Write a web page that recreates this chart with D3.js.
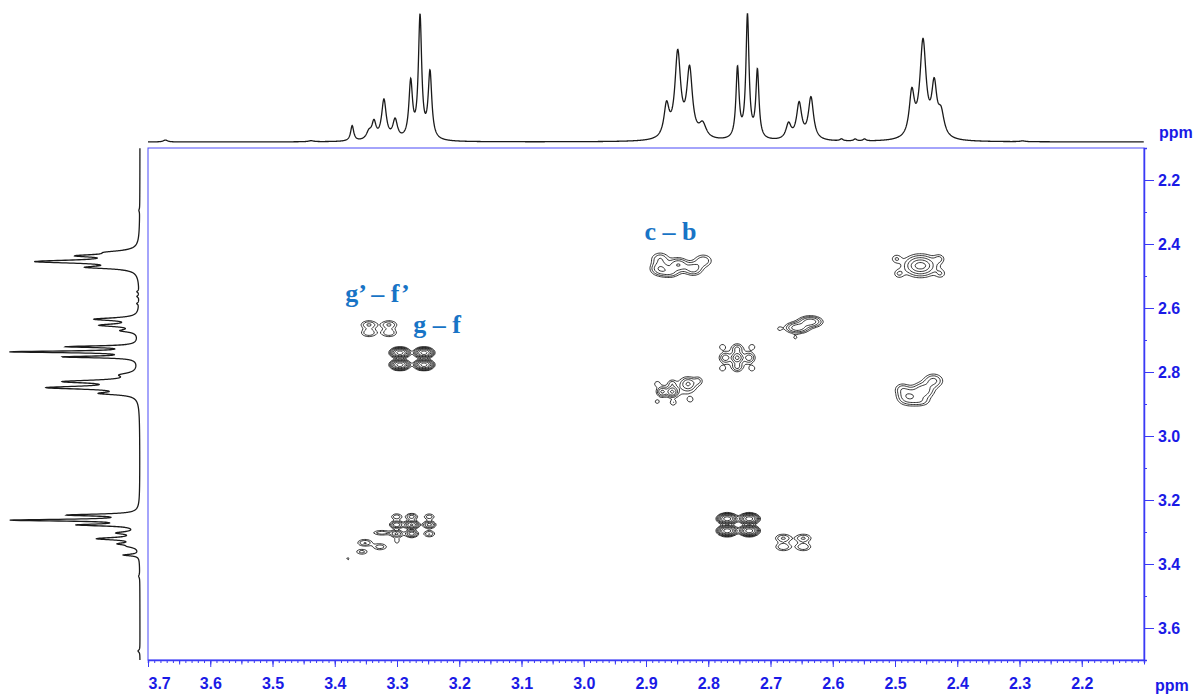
<!DOCTYPE html>
<html>
<head>
<meta charset="utf-8">
<script src="https://cdn.jsdelivr.net/npm/d3@7"></script>
<style>
  body { margin: 0; background: #fff; }
  svg { display: block; }
  .axis text { font-family: "Liberation Sans", Arial, sans-serif; font-weight: bold; font-size: 16px; fill: #1a1ae6; }
  .axis path, .axis line { stroke: #3a3af5; }
  .unit { font-family: "Liberation Sans", Arial, sans-serif; font-weight: bold; font-size: 16px; fill: #1a1ae6; }
  .lbl { font-family: "Liberation Serif", "Times New Roman", serif; font-weight: bold; font-size: 26px; fill: #1874c6; }
</style>
</head>
<body>
<div id="chart"></div>
<script>
// 1D projection (same spectrum on top and on the left)
// shift in ppm, relative height (tallest = 1), half width at half height in ppm
const peakShift  = [3.672, 3.438, 3.372, 3.345, 3.337, 3.321, 3.303, 3.278, 3.263, 3.247,
                    2.867, 2.849, 2.830, 2.809, 2.753, 2.737, 2.721, 2.671, 2.654, 2.635,
                    2.586, 2.564, 2.549, 2.473, 2.455, 2.437, 2.426, 2.295];
const peakHeight = [0.015, 0.008, 0.12, 0.06, 0.13, 0.31, 0.15, 0.44, 0.95, 0.52,
                    0.25, 0.66, 0.53, 0.11, 0.55, 0.96, 0.53, 0.12, 0.28, 0.33,
                    0.015, 0.015, 0.015, 0.34, 0.75, 0.38, 0.18, 0.006];
const peakWidth  = [0.004, 0.005, 0.003, 0.005, 0.004, 0.0045, 0.0045, 0.0035, 0.0032, 0.0035,
                    0.005, 0.0055, 0.0055, 0.007, 0.003, 0.003, 0.003, 0.005, 0.005, 0.005,
                    0.003, 0.003, 0.003, 0.005, 0.006, 0.005, 0.006, 0.005];

// 2D cross / diagonal peaks: [F2 ppm, F1 ppm, intensity, sigma F2, sigma F1]
const peakGF      = [[3.2965, 2.7375, 2.6, 0.0072, 0.0076], [3.2579, 2.7375, 2.6, 0.0072, 0.0076],
                     [3.2965, 2.7750, 2.6, 0.0072, 0.0076], [3.2579, 2.7750, 2.6, 0.0072, 0.0076]];
const peakFG      = [[2.7707, 3.2563, 2.8, 0.0072, 0.0076], [2.7354, 3.2563, 2.8, 0.0072, 0.0076],
                     [2.7707, 3.2938, 2.8, 0.0072, 0.0076], [2.7354, 3.2938, 2.8, 0.0072, 0.0076]];
const peakGF2     = [[3.3463, 2.6500, 0.35, 0.0085, 0.0085], [3.3141, 2.6500, 0.35, 0.0085, 0.0085],
                     [3.3463, 2.6750, 0.32, 0.0085, 0.0085], [3.3141, 2.6750, 0.32, 0.0085, 0.0085]];
const peakFG2     = [[2.6807, 3.3170, 0.35, 0.0085, 0.0085], [2.6486, 3.3170, 0.35, 0.0085, 0.0085],
                     [2.6807, 3.3440, 0.32, 0.0085, 0.0085], [2.6486, 3.3440, 0.32, 0.0085, 0.0085]];
const peakCB      = [[2.8785, 2.4750, 0.50, 0.0095, 0.013], [2.8495, 2.4625, 0.50, 0.0095, 0.013],
                     [2.8254, 2.4750, 0.42, 0.0095, 0.013], [2.8093, 2.4500, 0.30, 0.0095, 0.013],
                     [2.8785, 2.4438, 0.30, 0.0095, 0.013], [2.8624, 2.4875, 0.30, 0.0095, 0.010]];
const peakBC      = [[2.4797, 2.8750, 0.50, 0.011, 0.016], [2.4560, 2.8560, 0.45, 0.011, 0.016],
                     [2.4395, 2.8250, 0.36, 0.010, 0.014], [2.4900, 2.8500, 0.22, 0.008, 0.012],
                     [2.4600, 2.8900, 0.22, 0.010, 0.010]];
const peakDiagB   = [[2.4604, 2.4656, 0.70, 0.016, 0.020], [2.4990, 2.4438, 0.20, 0.006, 0.010],
                     [2.4300, 2.4438, 0.20, 0.006, 0.010], [2.4950, 2.4906, 0.20, 0.006, 0.010],
                     [2.4280, 2.4906, 0.18, 0.006, 0.010], [2.4604, 2.4656, 0.40, 0.007, 0.008]];
const peakDiag265 = [[2.6582, 2.6594, 0.70, 0.011, 0.010], [2.6373, 2.6406, 0.70, 0.011, 0.010],
                     [2.6871, 2.6625, 0.14, 0.004, 0.007], [2.6614, 2.6906, 0.14, 0.004, 0.007]];
const peakDiag275 = [[2.7547, 2.7531, 0.80, 0.005, 0.009], [2.7740, 2.7531, 0.35, 0.005, 0.009],
                     [2.7354, 2.7531, 0.35, 0.005, 0.009], [2.7547, 2.7250, 0.30, 0.005, 0.009],
                     [2.7547, 2.7813, 0.30, 0.005, 0.009], [2.7787, 2.7190, 0.15, 0.004, 0.007],
                     [2.7307, 2.7190, 0.15, 0.004, 0.007], [2.7787, 2.7870, 0.15, 0.004, 0.007],
                     [2.7307, 2.7870, 0.15, 0.004, 0.007], [2.7547, 2.7531, 0.15, 0.022, 0.030]];
const peakDiag285 = [[2.8592, 2.8594, 0.80, 0.005, 0.009], [2.8752, 2.8594, 0.50, 0.005, 0.009],
                     [2.8334, 2.8344, 0.45, 0.007, 0.012], [2.8174, 2.8250, 0.20, 0.005, 0.009],
                     [2.8833, 2.8344, 0.15, 0.004, 0.007], [2.8576, 2.8938, 0.18, 0.004, 0.007],
                     [2.8302, 2.8844, 0.15, 0.004, 0.007], [2.8833, 2.8906, 0.15, 0.004, 0.007],
                     [2.8592, 2.8344, 0.20, 0.004, 0.007], [2.8463, 2.8500, 0.14, 0.025, 0.025]];
const peakDiag328 = [[3.3018, 3.2500, 0.30, 0.006, 0.0065], [3.2777, 3.2500, 0.42, 0.006, 0.0065],
                     [3.2494, 3.2500, 0.28, 0.006, 0.0065], [3.3018, 3.2750, 0.75, 0.006, 0.0065],
                     [3.2777, 3.2750, 1.40, 0.006, 0.0065], [3.2494, 3.2750, 0.62, 0.006, 0.0065],
                     [3.3018, 3.3031, 0.55, 0.006, 0.0065], [3.2777, 3.3031, 0.68, 0.006, 0.0065],
                     [3.2494, 3.3031, 0.34, 0.006, 0.0065], [3.3254, 3.3000, 0.30, 0.010, 0.005],
                     [3.3013, 3.3250, 0.18, 0.004, 0.008], [3.3527, 3.3313, 0.34, 0.008, 0.007],
                     [3.3286, 3.3438, 0.28, 0.008, 0.007], [3.3576, 3.3594, 0.25, 0.007, 0.006],
                     [3.3800, 3.3813, 0.14, 0.004, 0.006]];

const contourLevels = [0.12, 0.2, 0.32, 0.5, 0.8, 1.25, 2, 3.2];
const xTickValues = [3.7, 3.6, 3.5, 3.4, 3.3, 3.2, 3.1, 3.0, 2.9, 2.8, 2.7, 2.6, 2.5, 2.4, 2.3, 2.2];
const yTickValues = [2.2, 2.4, 2.6, 2.8, 3.0, 3.2, 3.4, 3.6];
const labelText = ["c \u2013 b", "g\u2019 \u2013 f\u2019", "g \u2013 f"];

const width = 1199, height = 695;
const plot = {left: 148, right: 1144, top: 148, bottom: 660};

const svg = d3.select("#chart").append("svg")
    .attr("width", width)
    .attr("height", height);

// scales
const x = d3.scaleLinear().domain([3.7, 2.1]).range([plot.left, plot.right]);
const y = d3.scaleLinear().domain([2.1, 3.7]).range([plot.top, plot.bottom]);
const topY = d3.scaleLinear().domain([0, 1]).range([142, 14]);
const leftX = d3.scaleLinear().domain([0, 1]).range([140, 10]);

// 1D spectrum from the peak list
function spectrum(ppm) {
    let s = 0;
    for (let i = 0; i < peakShift.length; i++) {
        const d = (ppm - peakShift[i]) / peakWidth[i];
        s += peakHeight[i] / (1 + d * d);
    }
    return s;
}
const ppmGrid = d3.range(3.7, 2.1, -0.0004);
const trace = ppmGrid.map(p => [p, spectrum(p)]);

svg.append("path")
    .datum(trace)
    .attr("fill", "none")
    .attr("stroke", "#1a1a1a")
    .attr("stroke-width", 1.3)
    .attr("d", d3.line().x(d => x(d[0])).y(d => topY(d[1])));

svg.append("path")
    .datum(trace)
    .attr("fill", "none")
    .attr("stroke", "#1a1a1a")
    .attr("stroke-width", 1.3)
    .attr("d", d3.line().x(d => leftX(d[1])).y(d => y(d[0])));

// 2D contour map
const step = 1.5;
const gw = Math.ceil((plot.right - plot.left) / step);
const gh = Math.ceil((plot.bottom - plot.top) / step);
const grid = new Float64Array(gw * gh);
const allPeaks = [].concat(peakGF, peakFG, peakGF2, peakFG2, peakCB, peakBC,
                           peakDiagB, peakDiag265, peakDiag275, peakDiag285, peakDiag328);
allPeaks.forEach(([f2, f1, amp, s2, s1]) => {
    const cx = (x(f2) - plot.left) / step, cy = (y(f1) - plot.top) / step;
    const sx = Math.abs(x(f2 + s2) - x(f2)) / step, sy = Math.abs(y(f1 + s1) - y(f1)) / step;
    const i0 = Math.max(0, Math.floor(cx - 5 * sx)), i1 = Math.min(gw - 1, Math.ceil(cx + 5 * sx));
    const j0 = Math.max(0, Math.floor(cy - 5 * sy)), j1 = Math.min(gh - 1, Math.ceil(cy + 5 * sy));
    for (let j = j0; j <= j1; j++) {
        const dy = (j - cy) / sy;
        for (let i = i0; i <= i1; i++) {
            const dx = (i - cx) / sx;
            grid[j * gw + i] += amp * Math.exp(-0.5 * (dx * dx + dy * dy));
        }
    }
});

const contours = d3.contours().size([gw, gh]).thresholds(contourLevels)(grid);
const proj = d3.geoIdentity().scale(step).translate([plot.left, plot.top]);

svg.append("defs").append("clipPath").attr("id", "clip")
  .append("rect")
    .attr("x", plot.left).attr("y", plot.top)
    .attr("width", plot.right - plot.left).attr("height", plot.bottom - plot.top);

svg.append("g")
    .attr("clip-path", "url(#clip)")
  .selectAll("path")
  .data(contours)
  .join("path")
    .attr("d", d3.geoPath(proj))
    .attr("fill", "none")
    .attr("stroke", "#111")
    .attr("stroke-width", 0.85);

// frame
svg.append("rect")
    .attr("x", plot.left).attr("y", plot.top)
    .attr("width", plot.right - plot.left).attr("height", plot.bottom - plot.top)
    .attr("fill", "none")
    .attr("stroke", "#4a4af7")
    .attr("stroke-width", 1);

// bottom axis: minor, medium and major ticks
const xMinor = d3.range(3.7, 2.095, -0.01).map(v => +v.toFixed(2));
const xMid = xMinor.filter(v => Math.abs(v * 20 - Math.round(v * 20)) < 1e-6);

svg.append("g").attr("class", "axis")
    .attr("transform", `translate(0,${plot.bottom})`)
    .call(d3.axisBottom(x).tickValues(xMinor).tickSize(3).tickFormat(""))
    .call(g => g.select(".domain").attr("stroke-width", 1.5));
svg.append("g").attr("class", "axis")
    .attr("transform", `translate(0,${plot.bottom})`)
    .call(d3.axisBottom(x).tickValues(xMid).tickSize(4.5).tickFormat(""))
    .call(g => g.select(".domain").remove());
const xAxis = svg.append("g").attr("class", "axis")
    .attr("transform", `translate(0,${plot.bottom})`)
    .call(d3.axisBottom(x).tickValues(xTickValues).tickSize(7).tickPadding(11).tickFormat(d3.format(".1f")))
    .call(g => g.select(".domain").remove());
xAxis.selectAll(".tick text").filter(d => d === 3.7).attr("text-anchor", "start").attr("x", 0);

svg.append("text").attr("class", "unit")
    .attr("x", 1155).attr("y", 691)
    .text("ppm");

// right axis
const yMinor = d3.range(2.1, 3.75, 0.1).map(v => +v.toFixed(1)).filter(v => v > 2.1 && v < 3.7);
svg.append("g").attr("class", "axis")
    .attr("transform", `translate(${plot.right},0)`)
    .call(d3.axisRight(y).tickValues(yMinor).tickSize(3).tickFormat(""))
    .call(g => g.select(".domain").attr("stroke-width", 1.5));
svg.append("g").attr("class", "axis")
    .attr("transform", `translate(${plot.right},0)`)
    .call(d3.axisRight(y).tickValues(yTickValues).tickSize(10).tickPadding(4).tickFormat(d3.format(".1f")))
    .call(g => g.select(".domain").remove());

svg.append("text").attr("class", "unit")
    .attr("x", 1159).attr("y", 138)
    .text("ppm");

// peak labels
const labelPos = [[2.9026, 2.3875], [3.3833, 2.5800], [3.2740, 2.6780]];
svg.append("g").selectAll("text")
  .data(labelText)
  .join("text")
    .attr("class", "lbl")
    .attr("x", (d, i) => x(labelPos[i][0]))
    .attr("y", (d, i) => y(labelPos[i][1]))
    .text(d => d);
</script>
</body>
</html>
